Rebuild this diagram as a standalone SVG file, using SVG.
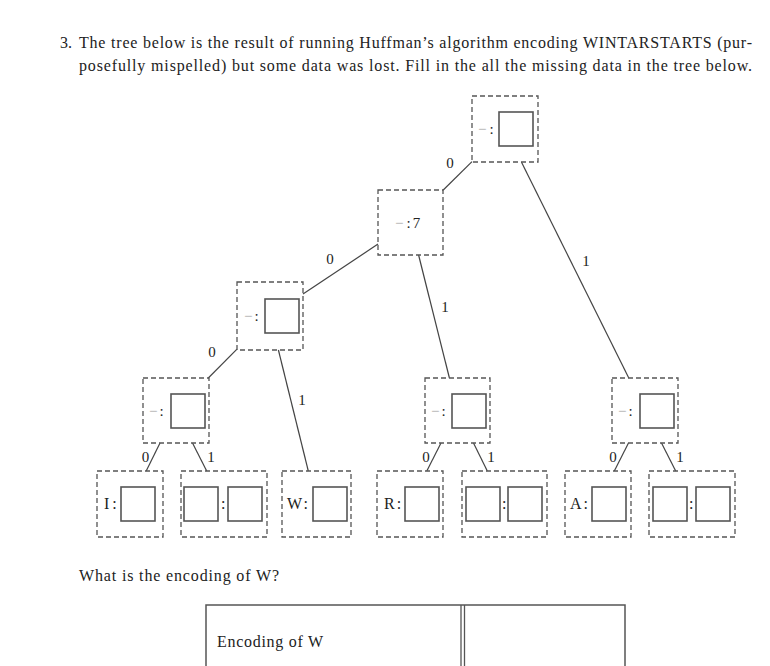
<svg xmlns="http://www.w3.org/2000/svg" width="770" height="666" viewBox="0 0 770 666">
<style>
text{font-family:"Liberation Serif","DejaVu Serif",serif;fill:#222}
.t{font-size:16px}
.lbl{font-size:15px}
.el{font-size:15px}
.dash{fill:#aaa}
.db{fill:none;stroke:#555;stroke-width:1.3;stroke-dasharray:5 3}
.sq{fill:none;stroke:#555;stroke-width:1.6}
.edge{stroke:#444;stroke-width:1.2;fill:none}
</style>
<rect width="770" height="666" fill="#fff"/>
<g id="question">
<text class="t" x="60" y="48">3.</text>
<text class="t" x="79" y="48" textLength="673" lengthAdjust="spacing">The tree below is the result of running Huffman’s algorithm encoding WINTARSTARTS (pur-</text>
<text class="t" x="79" y="71" textLength="673" lengthAdjust="spacing">posefully mispelled) but some data was lost. Fill in the all the missing data in the tree below.</text>
</g>
<g id="connectors">
<line class="edge" x1="472" y1="161.6" x2="443" y2="190.3"/>
<line class="edge" x1="521.4" y1="162" x2="628.8" y2="378"/>
<line class="edge" x1="378" y1="244.1" x2="303" y2="294"/>
<line class="edge" x1="418.6" y1="255" x2="449.4" y2="378"/>
<line class="edge" x1="237" y1="349.2" x2="208.3" y2="378"/>
<line class="edge" x1="278.4" y1="350" x2="308.3" y2="471"/>
<line class="edge" x1="160" y1="443" x2="146.2" y2="471"/>
<line class="edge" x1="192.5" y1="443" x2="206.7" y2="471"/>
<line class="edge" x1="441" y1="443" x2="426.8" y2="471"/>
<line class="edge" x1="473.5" y1="443" x2="487.3" y2="471"/>
<line class="edge" x1="628.5" y1="443" x2="614.3" y2="471"/>
<line class="edge" x1="661.5" y1="443" x2="675.7" y2="471"/>
<text class="el" x="450" y="168" text-anchor="middle">0</text>
<text class="el" x="586" y="266" text-anchor="middle">1</text>
<text class="el" x="330" y="264" text-anchor="middle">0</text>
<text class="el" x="445" y="312" text-anchor="middle">1</text>
<text class="el" x="212" y="357" text-anchor="middle">0</text>
<text class="el" x="302" y="405" text-anchor="middle">1</text>
<text class="el" x="145.5" y="462" text-anchor="middle">0</text>
<text class="el" x="211" y="462" text-anchor="middle">1</text>
<text class="el" x="426" y="462" text-anchor="middle">0</text>
<text class="el" x="491" y="462" text-anchor="middle">1</text>
<text class="el" x="613" y="462" text-anchor="middle">0</text>
<text class="el" x="680" y="462" text-anchor="middle">1</text>
</g>
<g id="root">
<rect class="db" x="472" y="96" width="66" height="66"/>
<text class="lbl" x="478" y="134"><tspan class="dash">−</tspan><tspan dx="3">:</tspan></text>
<rect class="sq" x="499" y="112" width="34" height="34"/>
</g>
<g id="n7">
<rect class="db" x="378" y="190" width="65" height="65"/>
<text class="lbl" x="395" y="228"><tspan class="dash">−</tspan><tspan dx="3">:</tspan><tspan dx="2">7</tspan></text>
</g>
<g id="nL">
<rect class="db" x="237" y="282" width="66" height="68"/>
<text class="lbl" x="244" y="321"><tspan class="dash">−</tspan><tspan dx="2">:</tspan></text>
<rect class="sq" x="265" y="299" width="34" height="34"/>
</g>
<g id="nLL">
<rect class="db" x="143" y="378" width="66" height="65"/>
<text class="lbl" x="149" y="416"><tspan class="dash">−</tspan><tspan dx="2">:</tspan></text>
<rect class="sq" x="171" y="394" width="34" height="34"/>
</g>
<g id="nRM">
<rect class="db" x="425" y="378" width="65" height="65"/>
<text class="lbl" x="431" y="416"><tspan class="dash">−</tspan><tspan dx="2">:</tspan></text>
<rect class="sq" x="452" y="394" width="34" height="34"/>
</g>
<g id="nRR">
<rect class="db" x="612" y="378" width="66" height="65"/>
<text class="lbl" x="618" y="416"><tspan class="dash">−</tspan><tspan dx="2">:</tspan></text>
<rect class="sq" x="640" y="394" width="34" height="34"/>
</g>
<g id="leafI">
<rect class="db" x="97" y="471" width="66" height="66"/>
<text class="t" x="104" y="509">I<tspan dx="3">:</tspan></text>
<rect class="sq" x="121" y="487" width="34" height="34"/>
</g>
<g id="leafIL2">
<rect class="db" x="181" y="471" width="86" height="66"/>
<rect class="sq" x="184" y="487" width="34" height="34"/>
<text class="t" x="221" y="509">:</text>
<rect class="sq" x="228" y="487" width="34" height="34"/>
</g>
<g id="leafW">
<rect class="db" x="282" y="471" width="69" height="66"/>
<text class="t" x="287" y="509">W<tspan dx="2">:</tspan></text>
<rect class="sq" x="313" y="487" width="34" height="34"/>
</g>
<g id="leafR">
<rect class="db" x="377" y="471" width="66" height="66"/>
<text class="t" x="384" y="509">R<tspan dx="2">:</tspan></text>
<rect class="sq" x="405" y="487" width="34" height="34"/>
</g>
<g id="leafRL2">
<rect class="db" x="462" y="471" width="85" height="66"/>
<rect class="sq" x="466" y="487" width="34" height="34"/>
<text class="t" x="502" y="509">:</text>
<rect class="sq" x="508" y="487" width="34" height="34"/>
</g>
<g id="leafA">
<rect class="db" x="565" y="471" width="66" height="66"/>
<text class="t" x="570" y="509">A<tspan dx="2">:</tspan></text>
<rect class="sq" x="592" y="487" width="34" height="34"/>
</g>
<g id="leafAL2">
<rect class="db" x="649" y="471" width="86" height="66"/>
<rect class="sq" x="653" y="487" width="34" height="34"/>
<text class="t" x="689" y="509">:</text>
<rect class="sq" x="696" y="487" width="34" height="34"/>
</g>
<g id="question2">
<text class="t" x="79" y="581" textLength="200" lengthAdjust="spacing">What is the encoding of W?</text>
</g>
<g id="answer-table">
<rect x="206" y="605" width="419" height="70" fill="none" stroke="#555" stroke-width="1.5"/>
<line x1="461" y1="605" x2="461" y2="666" stroke="#555" stroke-width="1.3"/>
<line x1="464.5" y1="605" x2="464.5" y2="666" stroke="#555" stroke-width="1.3"/>
<text class="t" x="217" y="647" textLength="106" lengthAdjust="spacing">Encoding of W</text>
</g>
</svg>
